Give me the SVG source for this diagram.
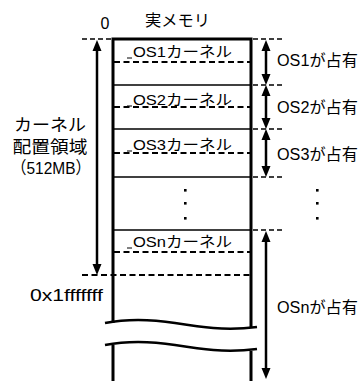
<svg xmlns="http://www.w3.org/2000/svg" width="360" height="381" viewBox="0 0 360 381">
  <style>
    text { font-family: "Liberation Sans", "Noto Sans CJK JP", sans-serif; fill: #000; }
    .box { stroke: #000; stroke-width: 3; fill: none; }
    .sep { stroke: #000; stroke-width: 1.5; fill: none; }
    .dash { stroke: #000; stroke-width: 2; stroke-dasharray: 6 3.5; fill: none; }
    .ext { stroke: #000; stroke-width: 1.5; stroke-dasharray: 5 3; fill: none; }
    .arr { stroke: #000; stroke-width: 2.5; fill: none; marker-start: url(#ah); marker-end: url(#ah); }
    .wave { stroke: #000; stroke-width: 2.5; fill: none; }
    .lbl { font-size: 14.5px; }
    .rl { font-size: 16px; }
    .ll { font-size: 17px; }
  </style>
  <defs>
    <marker id="ah" markerUnits="userSpaceOnUse" markerWidth="11" markerHeight="10" viewBox="0 0 11 10" refX="5" refY="5" orient="auto-start-reverse">
      <path d="M0,0.5 L11,5 L0,9.5 z" fill="#000"/>
    </marker>
  </defs>

  <g id="title">
    <text x="145" y="26" font-size="16" textLength="65" lengthAdjust="spacingAndGlyphs">実メモリ</text>
    <text x="105" y="29" font-size="16" text-anchor="middle">0</text>
  </g>

  <g id="memory">
    <path class="box" d="M111.5,39 H252.5 M113,39 V323 M251,39 V328 M113,345 V381 M251,351 V381"/>
    <path class="wave" d="M105,323 C125,319 150,319 175,323 S225,331 257,327"/>
    <path class="wave" d="M105,345 C125,341 150,341 175,345 S225,353 257,349"/>
  </g>

  <g id="os1">
    <line x1="127" y1="58" x2="132" y2="58" stroke="#000" stroke-width="1"/>
    <text class="lbl" x="133" y="57" textLength="99" lengthAdjust="spacingAndGlyphs">OS1カーネル</text>
    <line class="dash" x1="114" y1="62" x2="250" y2="62"/>
  </g>
  <g id="os2">
    <line class="sep" x1="114" y1="85" x2="250" y2="85"/>
    <line x1="127" y1="106" x2="132" y2="106" stroke="#000" stroke-width="1"/>
    <text class="lbl" x="133" y="105" textLength="99" lengthAdjust="spacingAndGlyphs">OS2カーネル</text>
    <line class="dash" x1="114" y1="107" x2="250" y2="107"/>
  </g>
  <g id="os3">
    <line class="sep" x1="114" y1="129" x2="250" y2="129"/>
    <line x1="127" y1="151" x2="132" y2="151" stroke="#000" stroke-width="1"/>
    <text class="lbl" x="133" y="150" textLength="99" lengthAdjust="spacingAndGlyphs">OS3カーネル</text>
    <line class="dash" x1="114" y1="153" x2="250" y2="153"/>
    <line class="sep" x1="114" y1="177" x2="250" y2="177"/>
  </g>
  <g id="dots">
    <rect x="184" y="189" width="2.6" height="2.6"/>
    <rect x="184" y="202" width="2.6" height="2.6"/>
    <rect x="184" y="217" width="2.6" height="2.6"/>
    <rect x="316" y="189" width="2.6" height="2.6"/>
    <rect x="316" y="202" width="2.6" height="2.6"/>
    <rect x="316" y="217" width="2.6" height="2.6"/>
  </g>
  <g id="osn">
    <line class="sep" x1="114" y1="230" x2="250" y2="230"/>
    <line x1="127" y1="248" x2="132" y2="248" stroke="#000" stroke-width="1"/>
    <text class="lbl" x="133" y="247" textLength="99" lengthAdjust="spacingAndGlyphs">OSnカーネル</text>
    <line class="dash" x1="114" y1="252" x2="250" y2="252"/>
  </g>

  <g id="kernel-area">
    <text class="ll" x="50" y="131" text-anchor="middle" textLength="72" lengthAdjust="spacingAndGlyphs">カーネル</text>
    <text class="ll" x="50" y="153" text-anchor="middle" textLength="75" lengthAdjust="spacingAndGlyphs">配置領域</text>
    <text class="ll" x="51" y="174" text-anchor="middle" textLength="80" lengthAdjust="spacingAndGlyphs">（512MB）</text>
    <text x="30" y="301" font-size="16" textLength="73" lengthAdjust="spacingAndGlyphs">0x1fffffff</text>
  </g>

  <g id="right-labels">
    <text class="rl" x="277" y="66" textLength="81" lengthAdjust="spacingAndGlyphs">OS1が占有</text>
    <text class="rl" x="277" y="113" textLength="81" lengthAdjust="spacingAndGlyphs">OS2が占有</text>
    <text class="rl" x="277" y="160" textLength="81" lengthAdjust="spacingAndGlyphs">OS3が占有</text>
    <text class="rl" x="277" y="313" textLength="81" lengthAdjust="spacingAndGlyphs">OSnが占有</text>
  </g>

  <g id="connectors">
    <line class="ext" x1="82" y1="39" x2="111" y2="39"/>
    <line class="dash" x1="82" y1="275" x2="250" y2="275"/>
    <line class="ext" x1="253" y1="39" x2="283" y2="39"/>
    <line class="ext" x1="253" y1="85" x2="283" y2="85"/>
    <line class="ext" x1="253" y1="129" x2="283" y2="129"/>
    <line class="ext" x1="253" y1="177" x2="283" y2="177"/>
    <line class="ext" x1="253" y1="230" x2="283" y2="230"/>
    <line class="arr" x1="97" y1="46" x2="97" y2="269"/>
    <line class="arr" x1="266" y1="46" x2="266" y2="79"/>
    <line class="arr" x1="266" y1="91" x2="266" y2="123"/>
    <line class="arr" x1="266" y1="135" x2="266" y2="171"/>
    <line class="arr" x1="266" y1="237" x2="266" y2="373"/>
  </g>
</svg>
